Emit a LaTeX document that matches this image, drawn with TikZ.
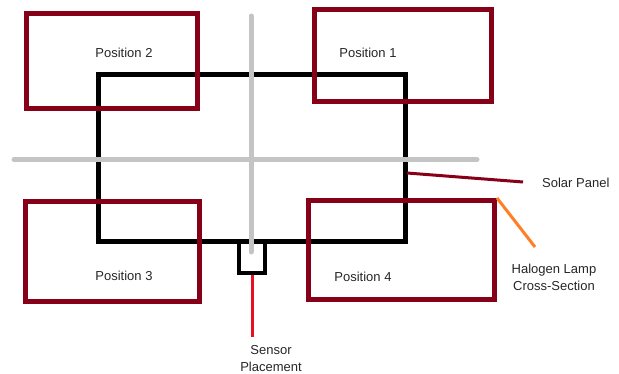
\documentclass[tikz,border=0pt]{standalone}
\usepackage{fontspec}
\setmainfont{Liberation Sans}
\definecolor{boxred}{RGB}{134,0,24}
\definecolor{axisgray}{RGB}{196,196,196}
\definecolor{lamporange}{RGB}{255,127,39}
\definecolor{sensorred}{RGB}{232,17,35}
\tikzset{
  posbox/.style={draw=boxred, line width=5pt, inner sep=0pt, rectangle},
  lbl/.style={font=\fontsize{13}{17}\selectfont, inner sep=0pt, align=center, text=black!85},
  axisline/.style={draw=axisgray, line width=5pt, line cap=round},
}
\begin{document}
\begin{tikzpicture}[x=1pt,y=-1pt]
\useasboundingbox (0,0) rectangle (619,374);
% panel (black rectangle)
\node[draw=black, line width=5pt, inner sep=0pt, minimum width=306.5pt, minimum height=167pt] (panel) at (251.75,158.5) {};
% sensor box
\node[draw=black, line width=4pt, inner sep=0pt, minimum width=26pt, minimum height=31pt] (sensor) at (252,257.5) {};
% axes
\coordinate (hl) at (14,159.5);
\coordinate (hr) at (477,159.5);
\coordinate (vt) at (251,16);
\coordinate (vb) at (251,252);
\draw[axisline] (hl) -- (hr);
\draw[axisline] (vt) -- (vb);
% position boxes
\node[posbox, minimum width=171.5pt, minimum height=95pt] (p2) at (111.75,61) {};
\node[posbox, minimum width=177.5pt, minimum height=92pt] (p1) at (402.75,56) {};
\node[posbox, minimum width=174.5pt, minimum height=100pt] (p3) at (112.25,251.5) {};
\node[posbox, minimum width=186pt, minimum height=99.5pt] (p4) at (401.5,250.25) {};
\node[lbl] (t2) at (124,53) {Position 2};
\node[lbl] (t1) at (368,53) {Position 1};
\node[lbl] (t3) at (124,276) {Position 3};
\node[lbl] (t4) at (363,277) {Position 4};
% labels
\node[lbl, anchor=west] (solar) at (542,183) {Solar Panel};
\node[lbl] (lamp) at (554,277) {Halogen Lamp\\Cross-Section};
\node[lbl] (sens) at (271,359) {Sensor\\Placement};
% connectors
\coordinate (sp1) at (407,173);
\coordinate (sp2) at (523,182);
\draw[boxred, line width=3pt] (sp1) -- (sp2);
\coordinate (la2) at (535,247);
\draw[lamporange, line width=3pt] (p4.north east) -- (la2);
\coordinate (se2) at (252,337);
\draw[sensorred, line width=3pt] (sensor.south) -- (se2);
\end{tikzpicture}
\end{document}
